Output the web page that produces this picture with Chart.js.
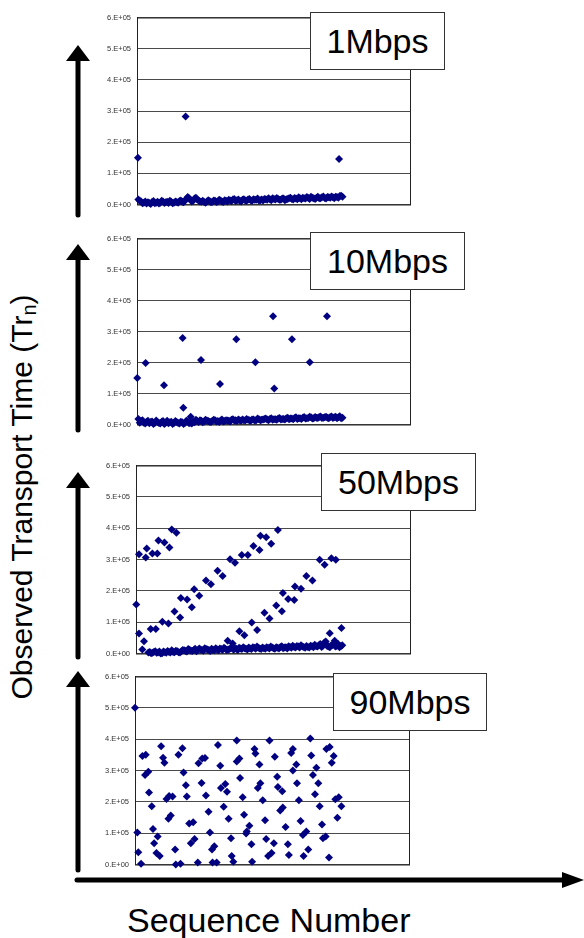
<!DOCTYPE html>
<html>
<head>
<meta charset="utf-8">
<script src="https://cdn.jsdelivr.net/npm/chart.js@4.4.1/dist/chart.umd.min.js"></script>
<style>
  body { margin: 0; background: #fff; width: 584px; height: 938px; position: relative; overflow: hidden;
         font-family: "Liberation Sans", Arial, sans-serif; }
  canvas { position: absolute; }
  .tag { position: absolute; background: #fff; border: 1.5px solid #333; box-sizing: border-box;
         font-size: 34px; display: flex; align-items: center; justify-content: center; z-index: 2; }
  #ylab { position: absolute; left: -193px; top: 479px; width: 430px; height: 36px; line-height: 36px;
          text-align: center; font-size: 30px; transform: rotate(-90deg); }
  #ylab sub { font-size: 20px; vertical-align: -4px; }
  #xlab { position: absolute; left: 127px; top: 903px; font-size: 34px; line-height: 34px; }
  svg { position: absolute; left: 0; top: 0; z-index: 3; }
</style>
</head>
<body>

<div id="ylab">Observed Transport Time (Tr<sub>n</sub>)</div>
<div id="xlab">Sequence Number</div>

<canvas id="c1" width="326" height="208" style="left:92px;top:7px"></canvas>
<canvas id="c2" width="326" height="207" style="left:92px;top:228px"></canvas>
<canvas id="c3" width="327" height="209" style="left:91px;top:455px"></canvas>
<canvas id="c4" width="327" height="209" style="left:90px;top:666px"></canvas>

<div class="tag" style="left:310px;top:12px;width:135px;height:58px">1Mbps</div>
<div class="tag" style="left:310px;top:232px;width:155px;height:58px">10Mbps</div>
<div class="tag" style="left:321px;top:453px;width:155px;height:58px">50Mbps</div>
<div class="tag" style="left:333px;top:673px;width:154px;height:58px">90Mbps</div>

<svg width="584" height="938">
  <g stroke="#000" stroke-width="5" stroke-linecap="round">
    <line x1="78" y1="58" x2="78" y2="215"/>
    <line x1="78" y1="257" x2="78" y2="430"/>
    <line x1="78" y1="485" x2="78" y2="657"/>
    <line x1="78" y1="684" x2="78" y2="870"/>
    <line x1="77" y1="880" x2="566" y2="880"/>
  </g>
  <g fill="#000">
    <polygon points="78,45 66,61 90,61"/>
    <polygon points="78,244 66,260 90,260"/>
    <polygon points="78,472 66,488 90,488"/>
    <polygon points="78,671 66,687 90,687"/>
    <polygon points="584,880 562,872 562,888"/>
  </g>
</svg>

<script>
// sequence numbers of the dense "normal" packets
const seqOdd = [1,3,5,7,9,11,13,15,17,19,21,23,25,27,29,31,33,35,37,39,41,43,45,47,49,
  51,53,55,57,59,61,63,65,67,69,71,73,75,77,79,81,83,85,87,89,91,93,95,97,99,
  101,103,105,107,109,111,113,115,117,119,121,123,125,127,129,131,133,135,137,139,
  141,143,145,147,149];
const seqEven = [2,4,6,8,10,12,14,16,18,20,22,24,26,28,30,32,34,36,38,40,42,44,46,48,50,
  52,54,56,58,60,62,64,66,68,70,72,74,76,78,80,82,84,86,88,90,92,94,96,98,100,
  102,104,106,108,110,112,114,116,118,120,122,124,126,128,130,132,134,136,138,140,
  142,144,146,148,150];

// transport times, units of 1e4
const base1 = [1.6,1.0,0.6,0.3,0.5,0.8,0.4,0.9,0.6,1.0,0.7,0.5,0.9,0.6,0.8,1.1,0.9,1.3,2.4,1.5,
  1.2,2.2,1.3,0.9,0.8,1.0,1.1,0.9,1.2,1.0,1.3,0.8,1.2,1.5,1.1,1.8,1.4,1.2,1.5,1.3,
  1.6,1.4,1.7,1.5,1.3,1.6,1.8,1.5,1.7,2.0,1.6,1.8,1.5,1.9,1.7,2.0,1.8,2.1,1.7,2.0,
  2.2,1.9,2.1,2.5,2.0,2.2,2.0,2.3,2.1,2.4,2.2,2.3,2.5,2.2,2.8];
const base1b = [1.2,0.4,1.0,0.7,0.2,1.1,0.6,0.3,1.2,0.5,0.9,1.2,0.4,1.0,0.6,1.3,0.7,1.8,2.0,1.0,
  1.9,1.6,1.0,1.2,0.6,1.4,0.7,1.3,0.8,1.5,1.0,1.4,1.0,1.3,1.6,1.1,1.6,1.0,1.7,1.2,
  1.8,1.2,1.5,1.9,1.4,1.3,1.7,2.0,1.4,1.8,2.1,1.5,1.9,1.4,1.8,2.2,1.6,1.9,2.3,1.7,
  2.0,2.4,1.8,2.2,1.8,2.5,2.0,2.6,1.9,2.3,2.6,2.0,2.4,2.7,2.5];
const out1 = [[0.7,15.0],[35.5,28.2],[147.5,14.6]];

const base2 = [1.8,1.2,0.6,0.9,0.4,1.0,0.5,0.8,0.3,1.1,0.6,0.4,0.9,0.5,0.8,0.3,0.7,0.5,1.0,0.6,
  0.9,1.5,0.8,1.2,1.0,1.3,0.9,1.2,1.4,1.1,1.3,1.0,1.4,1.2,1.5,1.3,1.1,1.4,1.6,1.3,
  1.5,1.2,1.6,1.4,1.7,1.5,1.8,1.6,1.8,1.5,1.7,1.9,1.6,1.8,2.0,1.7,1.9,2.1,1.8,2.0,
  2.2,1.9,2.1,2.3,2.0,2.2,2.4,2.1,2.3,2.2,2.4,2.1,2.5,2.3,2.0];
const base2b = [0.6,1.4,0.3,1.2,0.8,0.2,1.3,0.5,0.9,0.2,1.2,0.7,0.2,1.1,0.5,0.9,0.2,1.2,0.4,0.3,
  0.7,1.1,1.4,0.7,1.5,1.1,0.8,1.5,1.0,0.8,1.6,1.1,1.3,1.0,1.7,1.4,1.6,1.2,1.4,1.8,
  1.4,1.6,1.3,1.9,1.4,1.6,1.9,1.4,2.0,1.7,1.5,2.1,1.8,1.6,2.2,1.9,1.7,2.3,2.0,1.8,
  2.4,2.0,2.5,1.9,2.4,2.1,2.6,2.2,2.5,2.0,2.6,2.3,2.0,2.7,2.2];
const out2 = [[0.2,15.0],[6.3,19.8],[19.7,12.7],[33.3,27.9],[33.8,5.4],[39.2,2.5],[46.7,20.8],
  [60.6,13.1],[72.5,27.5],[86.4,20.1],[99.3,34.9],[100.2,11.6],[113.1,27.5],[126.1,20.1],[138.7,34.9]];

const base3 = [0.3,0.1,0.5,0.2,0.6,0.1,0.4,0.8,0.3,0.5,0.9,0.4,0.7,1.0,0.6,1.2,0.8,1.5,1.0,1.3,
  0.9,1.4,1.1,1.5,1.0,1.3,1.6,1.2,1.5,1.3,1.7,1.2,1.5,1.8,1.4,1.7,1.3,1.6,2.0,1.5,
  1.8,1.4,1.7,2.0,1.6,1.9,1.5,1.8,2.1,1.7,2.0,2.3,1.8,2.1,2.4,1.9,2.2,1.8,2.1,2.5,
  2.0,2.3,2.6,2.1,3.5,2.4,2.0,2.7,2.2,3.0,2.3];
const base3b = [0.5,0.2,0.7,0.3,0.0,0.6,0.2,0.5,1.0,0.4,0.7,0.3,1.1,0.8,1.4,0.9,1.1,0.7,1.6,1.1,
  1.7,1.3,0.8,1.2,1.7,1.0,1.4,1.8,1.1,1.4,1.9,1.6,1.1,1.6,2.0,1.5,1.9,1.4,1.8,2.2,
  1.6,1.9,1.5,1.8,2.2,1.7,2.0,1.6,2.3,1.9,1.6,2.1,2.5,1.9,2.2,2.6,2.1,2.4,1.9,2.3,
  2.8,2.2,3.0,2.5,3.8,2.2,2.6,3.2,2.4,2.0,2.6];
const out3 = [[2.2,31.7],[7.1,30.6],[7.8,33.5],[11.9,31.9],[15.5,31.9],[16.3,36.1],[20.7,35.4],
  [24.3,33.8],[26.0,39.6],[29.4,38.5],
  [0.2,15.6],[2.2,6.4],[4.6,1.3],[5.8,3.9],[10.7,7.8],[14.4,7.8],[19.2,10.1],[23.6,9.6],
  [28.0,13.4],[32.1,11.5],[32.6,17.7],[37.2,17.2],[40.6,14.8],[42.3,20.5],[46.0,18.4],
  [50.9,23.3],[54.5,22.1],[59.3,26.4],[63.0,24.7],[68.4,30.1],[72.0,29.0],[76.9,31.4],
  [81.3,31.4],[85.4,34.3],[89.8,33.0],[90.5,37.6],[94.7,37.1],[98.3,35.0],[103.2,39.4],
  [66.7,4.1],[70.3,3.2],[75.2,7.1],[78.8,5.8],[84.2,9.9],[88.1,7.5],[93.4,13.0],[97.1,11.2],
  [102.0,15.3],[106.1,13.5],[106.8,19.3],[110.7,17.4],[115.1,17.1],[115.6,21.4],[120.0,20.7],
  [123.9,24.7],[128.3,23.3],[133.6,29.9],[137.2,28.3],[142.1,30.4],[145.3,29.9],
  [140.9,6.5],[144.5,4.1],[149.4,8.1],[148.2,2.4]];

const pts4 = [[0,50.0],[1.7,10.2],[2.4,3.9],[4.4,0.2],[5.4,34.6],[7.8,35.0],[7.3,28.6],[9.7,29.6],
  [10.2,23.0],[12.2,18.6],[13.1,11.3],[13.9,6.8],[15.6,3.7],[16.5,8.9],[18.0,2.7],[19.0,37.7],
  [20.4,34.1],[21.4,32.5],[22.9,20.9],[24.3,14.6],[26.0,15.6],[24.8,21.9],[27.3,21.7],[29.2,4.8],
  [29.7,0.0],[31.6,35.0],[33.1,0.2],[34.5,37.1],[35.3,29.4],[37.0,25.3],[37.7,21.7],[39.4,13.1],
  [40.6,6.8],[42.3,13.5],[43.3,8.1],[45.7,0.6],[46.2,32.3],[48.4,26.0],[48.9,33.8],[50.9,34.0],
  [51.6,22.0],[53.5,16.8],[54.5,10.2],[56.0,4.8],[57.7,5.8],[56.4,0.6],[59.4,0.6],[60.3,38.1],
  [62.0,31.5],[62.5,24.4],[64.5,18.4],[65.7,25.7],[66.9,23.2],[68.1,14.6],[69.8,8.4],[70.3,2.7],
  [71.5,0.9],[74.0,39.6],[74.0,32.9],[75.9,33.8],[76.4,27.6],[78.3,21.5],[79.3,15.9],[81.3,10.5],
  [80.8,9.9],[83.2,12.4],[84.7,6.5],[85.2,0.9],[86.9,36.9],[87.6,35.4],[90.5,31.9],[89.3,24.4],
  [91.2,25.9],[92.9,20.5],[94.6,14.1],[95.4,8.1],[96.8,2.7],[97.8,39.6],[99.3,3.7],[101.0,6.8],
  [101.7,34.4],[103.4,28.0],[103.9,24.7],[105.6,17.2],[107.1,23.4],[107.5,18.2],[109.5,12.0],
  [111.2,6.5],[111.9,3.0],[113.6,35.6],[114.8,36.9],[114.8,30.0],[117.3,31.9],[117.8,25.9],
  [119.2,20.5],[120.4,13.9],[122.6,2.7],[122.1,9.4],[124.6,10.5],[126.0,4.8],[127.5,40.2],
  [128.2,34.8],[129.4,28.6],[131.9,30.9],[130.9,22.4],[133.3,25.9],[134.3,18.6],[136.0,12.8],
  [136.7,8.4],[138.7,8.9],[139.2,36.9],[141.6,37.5],[143.1,32.5],[144.5,34.6],[141.1,2.2],
  [145.7,20.8],[148.2,21.5],[147.2,14.9],[150.1,18.6]];

const yTicks = ['0.E+00','1.E+05','2.E+05','3.E+05','4.E+05','5.E+05','6.E+05'];

const navy = '#000080';

const frame = {
  id: 'frame',
  beforeDatasetsDraw(chart) {
    const { ctx, chartArea: a } = chart;
    ctx.save();
    ctx.strokeStyle = '#222';
    ctx.lineWidth = 1;
    ctx.strokeRect(a.left + 0.5, a.top + 0.5, a.right - a.left - 1, a.bottom - a.top);
    ctx.restore();
  }
};

function makeChart(id, groups) {
  const pts = [];
  groups.forEach(g => g.forEach(p => pts.push({ x: p[0], y: p[1] * 1e4 })));
  return new Chart(document.getElementById(id), {
    type: 'scatter',
    data: {
      datasets: [{
        data: pts,
        backgroundColor: navy,
        borderWidth: 0,
        pointStyle: 'rectRot',
        pointRadius: 4,
        clip: false
      }]
    },
    options: {
      responsive: false,
      animation: false,
      layout: { padding: { top: 8, bottom: 8, left: 0, right: 7 } },
      plugins: { legend: { display: false }, tooltip: { enabled: false } },
      scales: {
        x: { type: 'linear', min: 0, max: 200, display: false },
        y: {
          min: 0, max: 6e5,
          afterFit: s => { s.width = 45; },
          border: { display: true, color: '#111' },
          grid: { color: '#4a4a4a', drawTicks: false },
          ticks: {
            stepSize: 1e5,
            padding: 6,
            color: '#333',
            font: { family: 'Liberation Sans', size: 7.5 },
            callback: v => yTicks[Math.round(v / 1e5)]
          }
        }
      }
    },
    plugins: [frame]
  });
}

function pairs(xs, ys) {
  return ys.map((y, i) => [xs[i], y]);
}

makeChart('c1', [pairs(seqOdd, base1), pairs(seqEven, base1b), out1]);
makeChart('c2', [pairs(seqOdd, base2), pairs(seqEven, base2b), out2]);
makeChart('c3', [pairs(seqOdd.slice(4), base3), pairs(seqEven.slice(4), base3b), out3]);
makeChart('c4', [pts4]);
</script>
</body>
</html>
